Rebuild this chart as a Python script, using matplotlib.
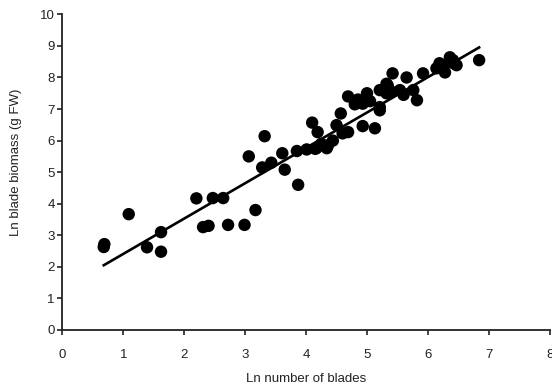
import matplotlib.pyplot as plt
import numpy as np

# Ln number of blades vs Ln blade biomass
ln_blades = [0.68, 0.69, 1.09, 1.39, 1.62, 1.62, 2.20, 2.31, 2.40, 2.47,
             2.64, 2.72, 2.99, 3.06, 3.17, 3.28, 3.32, 3.43, 3.61, 3.65,
             3.85, 3.87, 4.01, 4.10, 4.15, 4.17, 4.19, 4.34, 4.44, 4.50,
             4.60, 4.57, 4.69, 4.69, 4.80, 4.93, 4.93, 5.00, 5.13, 5.21,
             5.21, 5.21, 5.32, 5.32, 5.34, 5.42, 5.40, 5.54, 5.65, 5.76,
             5.82, 5.92, 6.14, 6.19, 6.28, 6.36, 6.41, 6.47, 6.84, 4.85,
             4.36, 4.25, 5.05, 5.60, 6.25, 6.42]
ln_biomass = [2.63, 2.72, 3.67, 2.62, 3.10, 2.48, 4.17, 3.26, 3.30, 4.18,
              4.18, 3.33, 3.33, 5.50, 3.80, 5.15, 6.14, 5.30, 5.60, 5.08,
              5.67, 4.60, 5.72, 6.57, 5.74, 5.76, 6.27, 5.76, 6.00, 6.49,
              6.23, 6.86, 7.40, 6.27, 7.15, 7.17, 6.46, 7.50, 6.39, 6.96,
              7.06, 7.60, 7.50, 7.80, 7.75, 8.13, 7.55, 7.60, 8.00, 7.60,
              7.28, 8.13, 8.29, 8.45, 8.16, 8.64, 8.55, 8.39, 8.55, 7.30,
              5.85, 5.90, 7.25, 7.45, 8.35, 8.45]

# regression line
fit_slope = 1.12
fit_intercept = 1.29

plt.rcParams['font.family'] = ['Liberation Sans', 'DejaVu Sans']
ink = '#222222'

fig = plt.figure(figsize=(5.52, 3.88), dpi=100)
ax = fig.add_axes([0.1129, 0.1495, 0.8831, 0.8135])

ax.scatter(ln_blades, ln_biomass, s=80, color='black', edgecolors='none', zorder=3)

xfit = np.array([min(ln_blades), max(ln_blades)])
ax.plot(xfit, fit_intercept + fit_slope * xfit, color='black', lw=1.9, zorder=2)

ax.set_xlim(0, 8)
ax.set_ylim(0, 10)
ax.set_xticks(range(0, 9))
ax.set_yticks(range(0, 11))
for side in ['top', 'right']:
    ax.spines[side].set_visible(False)
for side in ['left', 'bottom']:
    ax.spines[side].set_linewidth(1.3)
    ax.spines[side].set_color(ink)
ax.tick_params(length=3.5, width=1.2, colors=ink, labelsize=9.5)
ax.tick_params(axis='x', pad=10)
ax.tick_params(axis='y', pad=2)
ax.set_xlabel('Ln number of blades', fontsize=9.5, color=ink, labelpad=9)
ax.set_ylabel('Ln blade biomass (g FW)', fontsize=9.5, color=ink, labelpad=12)
ax.yaxis.set_label_coords(-0.083, 0.53)

fig.savefig('out.png', dpi=100)
